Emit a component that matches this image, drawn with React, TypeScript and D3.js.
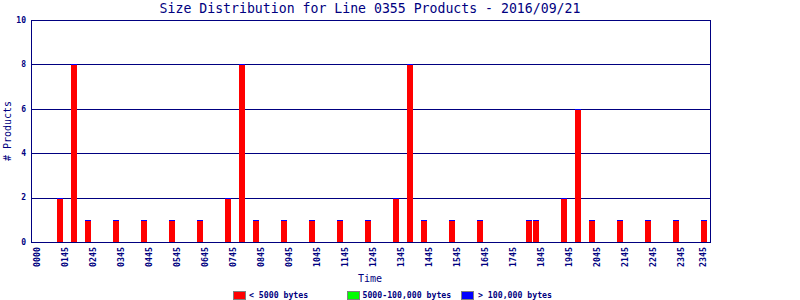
import React from "react";
import * as d3 from "d3";

// ---- data ----
const title = "Size Distribution for Line 0355 Products - 2016/09/21";
const times = ["0045","0115","0145","0245","0345","0445","0545","0645","0715","0745","0845","0945","1045","1145","1245","1315","1345","1445","1545","1730","1745","1845","1915","1945","2045","2145","2245","2345"];
const small = [2,8,1,1,1,1,1,2,8,1,1,1,1,1,2,8,1,1,1,1,1,2,6,1,1,1,1,1];
const medium = times.map(() => 0);
const large = times.map(() => 0);
const tickLabels = ["0000","0145","0245","0345","0445","0545","0645","0745","0845","0945","1045","1145","1245","1345","1445","1545","1645","1745","1845","1945","2045","2145","2245","2345"];
const lastLabel = "2345";
const yTicks = [0, 2, 4, 6, 8, 10];
const legendItems = ["< 5000 bytes", "5000-100,000 bytes", "> 100,000 bytes"];
const legendColors = ["#ff0000", "#00ff00", "#0000ff"];

const W = 800, H = 300;
const L = 31, R = 710, T = 20, B = 242;
const NAVY = "#000080";
const MONO = "'DejaVu Sans Mono', monospace";

function slotOf(t: string) {
  const h = +t.slice(0, 2), m = +t.slice(2);
  return (h * 60 + m) / 15;
}

export default function App() {
  const x = d3.scaleLinear().domain([0, 95]).range([39, 704]);
  const y = d3.scaleLinear().domain([0, 10]).range([B, T]);
  const bw = 6;
  const legendX = [233, 347, 461];
  const legendTextX = [249, 362.5, 478];

  return (
    <svg width={W} height={H} style={{ position: "absolute", left: 0, top: 0, background: "#fff" }}>
      <text x={370} y={12.5} textAnchor="middle" fontFamily={MONO} fontSize={13.2} fill={NAVY}>{title}</text>
      {/* grid */}
      {yTicks.filter(v => v > 0).map(v => (
        <line key={v} x1={L} x2={R} y1={Math.round(y(v)) + 0.5} y2={Math.round(y(v)) + 0.5} stroke={NAVY} strokeWidth={1} />
      ))}
      {/* bars */}
      {times.map((t, i) => {
        const cx = x(slotOf(t));
        const v0 = small[i];
        const v1 = v0 + medium[i];
        const v2 = v1 + large[i];
        const yTop = Math.round(y(v2));
        return (
          <g key={t}>
            <rect x={cx - bw / 2} y={Math.round(y(v0))} width={bw} height={B - Math.round(y(v0))} fill={legendColors[0]} />
            {medium[i] > 0 && <rect x={cx - bw / 2} y={Math.round(y(v1))} width={bw} height={Math.round(y(v0)) - Math.round(y(v1))} fill={legendColors[1]} />}
            <rect x={cx - bw / 2} y={yTop} width={bw} height={Math.max(1, Math.round(y(v1)) - yTop)} fill={legendColors[2]} />
          </g>
        );
      })}
      {/* axes */}
      <rect x={L + 0.5} y={T + 0.5} width={R - L} height={B - T} fill="none" stroke={NAVY} strokeWidth={1} />
      {yTicks.map(v => (
        <text key={v} x={26} y={y(v)} dy="0.35em" textAnchor="end" fontFamily={MONO} fontWeight="bold" fontSize={8} fill={NAVY}>{v}</text>
      ))}
      {tickLabels.map((lab, i) => (
        <text key={i} transform={`translate(${x(i * 4) - 1.5},247) rotate(-90)`} dy="0.35em" textAnchor="end" fontFamily={MONO} fontWeight="bold" fontSize={8.3} fill={NAVY}>{lab}</text>
      ))}
      <text transform={`translate(${x(95) - 1},247) rotate(-90)`} dy="0.35em" textAnchor="end" fontFamily={MONO} fontWeight="bold" fontSize={8.3} fill={NAVY}>{lastLabel}</text>
      <text x={370} y={282} textAnchor="middle" fontFamily={MONO} fontSize={10} fill={NAVY}>Time</text>
      <text transform={`translate(10.5,131) rotate(-90)`} textAnchor="middle" fontFamily={MONO} fontSize={10} fill={NAVY}>{"# Products"}</text>
      {/* legend */}
      {legendItems.map((lab, i) => (
        <g key={lab}>
          <rect x={legendX[i] + 0.5} y={291.5} width={12} height={8} fill={legendColors[i]} stroke="#808080" strokeWidth={1} />
          <text x={legendTextX[i]} y={298} fontFamily={MONO} fontWeight="bold" fontSize={8.2} fill={NAVY}>{lab}</text>
        </g>
      ))}
    </svg>
  );
}
